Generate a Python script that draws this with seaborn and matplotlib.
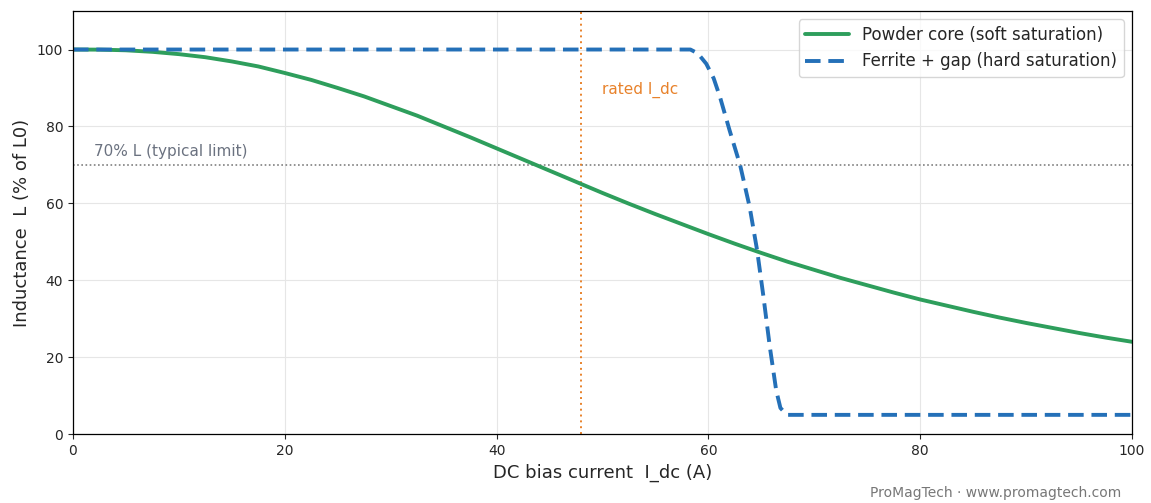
import matplotlib
matplotlib.use("Agg")
import matplotlib.pyplot as plt
import seaborn as sns
import pandas as pd

# Powder core (soft saturation)
powder_x = [0, 2.5, 5, 7.5, 10, 12.5, 15, 17.5, 20, 22.5, 25, 27.5, 30, 32.5, 35, 37.5, 40, 42.5, 45, 47.5,
            50, 52.5, 55, 57.5, 60, 62.5, 65, 67.5, 70, 72.5, 75, 77.5, 80, 82.5, 85, 87.5, 90, 92.5, 95, 97.5, 100]
powder_y = [100, 99.97, 99.8, 99.4, 98.8, 98.0, 96.9, 95.6, 93.9, 92.1, 90.0, 87.8, 85.3, 82.8, 80.0, 77.2, 74.3, 71.4,
            68.5, 65.6, 62.7, 59.9, 57.2, 54.6, 52.0, 49.5, 47.1, 44.8, 42.7, 40.6, 38.7, 36.8, 35.0, 33.4, 31.8,
            30.3, 28.9, 27.6, 26.3, 25.1, 24.0]

# Ferrite + gap (hard saturation)
ferrite_x = [0, 10, 20, 30, 40, 50, 58.3, 59.0, 59.8, 60.5, 61.1, 62.0, 63.0, 63.9, 64.6, 65.2, 65.8, 66.4, 66.8, 67.4, 70, 80, 90, 100]
ferrite_y = [100, 100, 100, 100, 100, 100, 100, 99.0, 96.3, 92.5, 87.6, 79.0, 69.9, 59.0, 47.8, 35.7, 22.7, 11.4, 6.8, 5, 5, 5, 5, 5]

rated_idc = 48
limit_pct = 70

sns.set_style("ticks")
plt.rcParams['font.family'] = ['DejaVu Sans']

fig = plt.figure(figsize=(11.51, 5.03), dpi=100)
ax = fig.add_axes([0.0634, 0.137, 0.9201, 0.841])

df_p = pd.DataFrame({"x": powder_x, "y": powder_y})
df_f = pd.DataFrame({"x": ferrite_x, "y": ferrite_y})

sns.lineplot(data=df_p, x="x", y="y", ax=ax, color="#2e9e5c", lw=2.8,
             label="Powder core (soft saturation)", sort=False)
sns.lineplot(data=df_f, x="x", y="y", ax=ax, color="#2470b8", lw=2.8,
             dashes=False, label="Ferrite + gap (hard saturation)", sort=False)
ax.lines[-1].set_dashes([4, 2])

ax.axhline(limit_pct, color="#808080", lw=1.2, linestyle=(0, (1, 1.5)), zorder=1)
ax.axvline(rated_idc, color="#e8822b", lw=1.4, linestyle=(0, (1, 2)), zorder=1)
ax.text(2, 71.5, "70% L (typical limit)", color="#6b7280", fontsize=11, va="bottom", ha="left")
ax.text(50, 89.6, "rated I_dc", color="#e8822b", fontsize=11, va="center", ha="left")

ax.set_xlim(0, 100)
ax.set_ylim(0, 110)
ax.set_xticks([0, 20, 40, 60, 80, 100])
ax.set_yticks([0, 20, 40, 60, 80, 100])
ax.tick_params(labelsize=10)
ax.grid(True, color="#e6e6e6", lw=0.8)
ax.set_axisbelow(True)
for s in ax.spines.values():
    s.set_visible(True)
    s.set_color("black")
    s.set_linewidth(0.9)

ax.set_xlabel("DC bias current  I_dc (A)", fontsize=13)
ax.set_ylabel("Inductance  L (% of L0)", fontsize=13)

leg = ax.legend(loc="upper right", fontsize=12, frameon=True, handlelength=2.6)
leg.get_frame().set_edgecolor("#cccccc")
leg.get_lines()[-1].set_dashes([4, 2])

fig.text(0.974, 0.005, "ProMagTech · www.promagtech.com", ha="right", va="bottom",
         fontsize=10, color="#777777")

fig.savefig("out.png", dpi=100)
